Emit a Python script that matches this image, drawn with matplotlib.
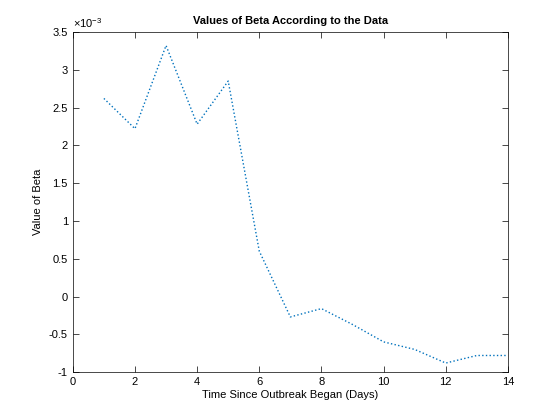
import matplotlib
matplotlib.use("Agg")
import matplotlib.pyplot as plt

plt.rcParams['font.family'] = ['Liberation Sans', 'DejaVu Sans']
plt.rcParams['mathtext.fontset'] = 'custom'
plt.rcParams['mathtext.rm'] = 'Liberation Sans'

days = [1, 2, 3, 4, 5, 6, 7, 8, 9, 10, 11, 12, 13, 14]
beta = [2.62e-3, 2.22e-3, 3.32e-3, 2.28e-3, 2.85e-3, 0.6e-3, -0.27e-3, -0.16e-3,
        -0.37e-3, -0.6e-3, -0.7e-3, -0.88e-3, -0.78e-3, -0.78e-3]

fig = plt.figure(figsize=(5.6, 4.2), dpi=100)
ax = fig.add_axes([0.130, 0.114, 0.777, 0.81])
ax.plot(days, beta, linestyle=':', color='#0072BD', linewidth=1)
ax.set_xlim(0, 14)
ax.set_ylim(-1e-3, 3.5e-3)
ax.set_xticks(range(0, 15, 2))
ax.set_yticks([i * 0.5e-3 for i in range(-2, 8)])
ax.set_yticklabels(['-1', '-0.5', '0', '0.5', '1', '1.5', '2', '2.5', '3', '3.5'])
ax.tick_params(direction='in', top=True, right=True, labelsize=8, length=4, width=0.5)
for s in ax.spines.values():
    s.set_linewidth(0.5)
ax.text(0, 1.005, r'$\times10^{-3}$', transform=ax.transAxes, fontsize=8, va='bottom', ha='left')
ax.set_title('Values of Beta According to the Data', fontsize=8, fontweight='bold')
ax.set_xlabel('Time Since Outbreak Began (Days)', fontsize=8, labelpad=2)
ax.set_ylabel('Value of Beta', fontsize=8)
fig.savefig('out.png', dpi=100)
